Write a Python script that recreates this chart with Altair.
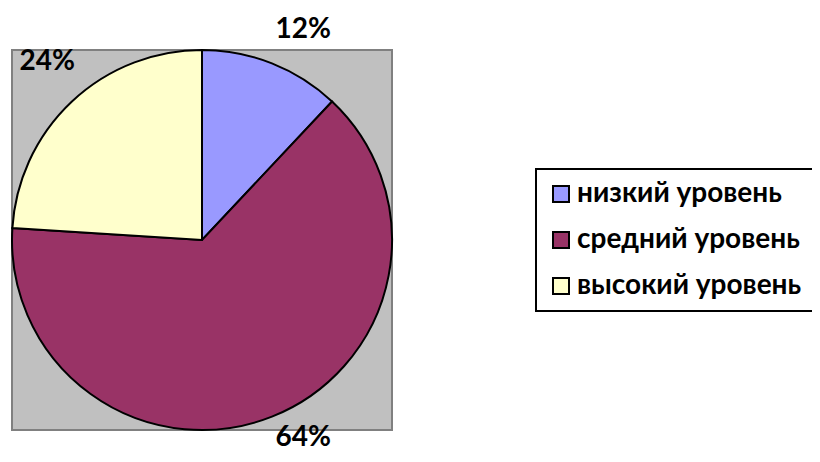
import altair as alt
import pandas as pd

categories = ["низкий уровень", "средний уровень", "высокий уровень"]
values = [12, 64, 24]
labels = ["12%", "64%", "24%"]
colors = ["#9999FF", "#993366", "#FFFFCC"]

df = pd.DataFrame({
    "cat": categories,
    "value": values,
    "label": labels,
    "order": list(range(len(categories))),
})

CX, CY, R = 194, 232, 190

bg = alt.Chart(pd.DataFrame({"a": [0]})).mark_rect(
    fill="#C0C0C0", stroke="#808080", strokeWidth=2
).encode(
    x=alt.value(CX - R), x2=alt.value(CX + R),
    y=alt.value(CY - R), y2=alt.value(CY + R),
)

base = alt.Chart(df).encode(
    theta=alt.Theta("value:Q", stack=True),
    order=alt.Order("order:Q"),
)

pie = base.mark_arc(radius=R, stroke="black", strokeWidth=2).encode(
    color=alt.Color(
        "cat:N",
        scale=alt.Scale(domain=categories, range=colors),
        sort=categories,
        legend=alt.Legend(
            title=None,
            orient="none",
            legendX=528,
            legendY=161,
            padding=11,
            rowPadding=18,
            strokeColor="black",
            fillColor="white",
            symbolType="square",
            symbolSize=256,
            symbolStrokeColor="black",
            symbolStrokeWidth=2,
            symbolOpacity=1,
            labelFont="Lato",
            labelFontWeight="bold",
            labelFontSize=28,
            labelColor="black",
            labelOffset=2,
            labelLimit=500,
        ),
    ),
    x=alt.value(CX),
    y=alt.value(CY),
)

# label nudges mimic Excel's outside-end label placement
nudges = {"12%": (18, 0), "64%": (18, -12), "24%": (0, -13)}
texts = []
for lab, (ddx, ddy) in nudges.items():
    texts.append(
        base.mark_text(
            radius=226, font="Lato", fontWeight="bold", fontSize=28,
            color="black", dx=ddx, dy=ddy
        ).encode(
            text=alt.condition(alt.datum.label == lab, "label:N", alt.value("")),
            x=alt.value(CX),
            y=alt.value(CY),
        )
    )

chart = alt.layer(bg, pie, *texts).properties(
    width=804, height=446, autosize=alt.AutoSizeParams(type="none"), padding=0
).configure_view(stroke=None).configure_legend(strokeWidth=2)

chart.save("out.html", embed_options={"renderer": "svg", "actions": False})
